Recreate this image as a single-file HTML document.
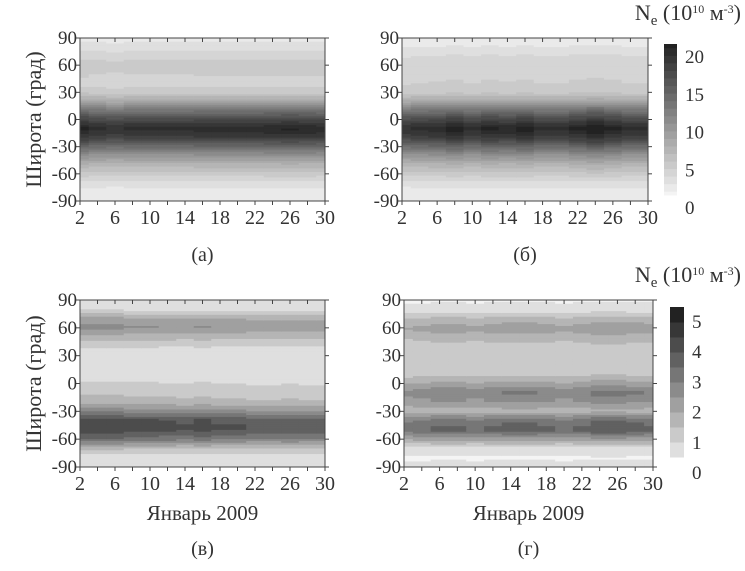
<!DOCTYPE html>
<html><head><meta charset="utf-8"><style>
body{margin:0;background:#fff;}
svg{font-family:"Liberation Serif",serif;}
</style></head><body>
<svg id="s" width="745" height="566"></svg>
<script>
const days=[2,4,6,8,10,12,14,16,18,20,22,24,26,28,30];
const lats=[90,80,70,60,50,40,30,20,10,0,-10,-20,-30,-40,-50,-60,-70,-80,-90];
const profA=[1,2,3,4,3.5,3,4,7,12,16,19,17,13,9,6,4,2,1,1];
const profB=[1,1.5,2.5,3,3,3.5,4,7,12,16,19,17,13,9,6,4,2,1,1];
const profC=[0.3,0.6,1.8,2.3,1.5,0.8,0.4,0.6,0.4,0.8,1.1,1.5,2.5,3.9,4,3,1.3,0.4,0.3];
const profD=[0.2,0.4,1.4,2,1.5,1,1,1,1.1,1.9,2.7,2.2,1.5,3,3.4,2,0.5,0.2,0.4];
const dayA=[1.05,1,0.98,1,1,1,1,1.02,1.02,1.02,1.02,1.03,1.04,1.03,1.02];
const dayB=[0.98,1,1.02,1.06,1,1.05,1.03,1.06,1,1,1.05,1.1,1.05,1,1];
const dayC=[1.05,1.05,1.05,1,1,0.98,0.95,1,0.95,0.95,0.9,0.9,0.92,0.9,0.9];
const dayD=[0.9,0.95,1,1,0.95,1,1.05,1.05,1,0.95,1,1.1,1.1,1.05,1];
const xTicks=[2,6,10,14,18,22,26,30];
const yTicks=[90,60,30,0,-30,-60,-90];
const cbA=[0,5,10,15,20];
const cbD=[0,1,2,3,4,5];
const S=document.getElementById('s');const NS='http://www.w3.org/2000/svg';
function mk(t,a,p){const e=document.createElementNS(NS,t);for(const k in a)e.setAttribute(k,a[k]);(p||S).appendChild(e);return e;}
function gray(v,max){const f=Math.max(0,Math.min(1,v/max));const q=Math.round(f*(max>10?20:10))/(max>10?20:10);const g=Math.round(244-q*210);return `rgb(${g},${g},${g})`;}
function panel(x0,x1,y0,y1,prof,dm,max,name,xlab,ylab,lab){
 const g=mk('g',{});
 const X=d=>x0+(d-2)/28*(x1-x0), Y=l=>y0+(90-l)/180*(y1-y0);
 for(let j=0;j<days.length;j++){
  const dx0=j==0?X(days[0]):X((days[j-1]+days[j])/2), dx1=j==days.length-1?X(days[j]):X((days[j]+days[j+1])/2);
  for(let l=90;l>-90;l-=2){
   const lm=l-1;const i=Math.min(17,Math.floor((90-lm)/10));const t=((90-lm)-i*10)/10;
   const v=(prof[i]*(1-t)+prof[i+1]*t)*dm[j];
   const r=mk('rect',{x:dx0,y:Y(l),width:dx1-dx0+0.5,height:Y(l-2)-Y(l)+0.5,fill:gray(v,max)},g);
   
  }
 }
 mk('rect',{x:x0,y:y0,width:x1-x0,height:y1-y0,fill:'none',stroke:'#444','stroke-width':1},g);
 for(let d=2;d<=30;d+=2){mk('line',{x1:X(d),x2:X(d),y1:y0,y2:y0+4,stroke:'#444'},g);mk('line',{x1:X(d),x2:X(d),y1:y1,y2:y1+4,stroke:'#444'},g);}
 xTicks.forEach(d=>{const t=mk('text',{x:X(d),y:y1+23,'font-size':20,'text-anchor':'middle',fill:'#333'},g);t.textContent=d;});
 yTicks.forEach(l=>{mk('line',{x1:x0-4,x2:x0,y1:Y(l),y2:Y(l),stroke:'#444'},g);mk('line',{x1:x1,x2:x1+4,y1:Y(l),y2:Y(l),stroke:'#444'},g);const t=mk('text',{x:x0-3,y:Y(l)+6,'font-size':19,'text-anchor':'end',fill:'#333'},g);t.textContent=l;});
 const cx=(x0+x1)/2;
 if(xlab){const t=mk('text',{x:cx,y:y1+53,'font-size':21,'text-anchor':'middle',fill:'#333'},g);t.textContent='Январь 2009';}
 if(ylab){const t=mk('text',{x:0,y:0,'font-size':22,'text-anchor':'middle',fill:'#333',transform:`translate(41,${(y0+y1)/2}) rotate(-90)`},g);t.textContent='Широта (град)';}
 const t=mk('text',{x:cx,y:lab,'font-size':20,'text-anchor':'middle',fill:'#333'},g);t.textContent=name.slice(-3);
}
panel(80,325,38,201,profA,dayA,20,'panel-(а)',false,true,261);
panel(402,648,38,201,profB,dayB,20,'panel-(б)',false,false,261);
panel(80,325,300,467,profC,dayC,5,'panel-(в)',true,true,555);
panel(404,653,300,467,profD,dayD,5,'panel-(г)',true,false,555);
function cbar(x,y0,y1,w,labs,max,ty0,ty1,name,ty){
 const g=mk('g',{});
 const n=max>10?40:10;
 for(let k=0;k<n;k++){const v=(k+0.5)*max/n;const r=mk('rect',{x:x,y:y1-(k+1)*(y1-y0)/n,width:w,height:(y1-y0)/n+0.5,fill:gray(v,max)},g);}
 labs.forEach((v,i)=>{const t=mk('text',{x:x+w+8,y:ty0+(ty1-ty0)*v/max+6,'font-size':19,fill:'#333'},g);t.textContent=v;});
 const t=mk('text',{x:745-4,y:ty,'font-size':22,'text-anchor':'end',fill:'#333'},g);
 t.innerHTML='N<tspan font-size="15" dy="5">e</tspan><tspan dy="-5"> (10</tspan><tspan font-size="12" dy="-7">10</tspan><tspan dy="7"> м</tspan><tspan font-size="12" dy="-7">-3</tspan><tspan dy="7">)</tspan>';
 
}
cbar(664,44,195,13,cbA,20,208,57,'colorbar-top',20);
cbar(670,307,457,14,cbD,5,473,322,'colorbar-bottom',282);
</script>
</body></html>
